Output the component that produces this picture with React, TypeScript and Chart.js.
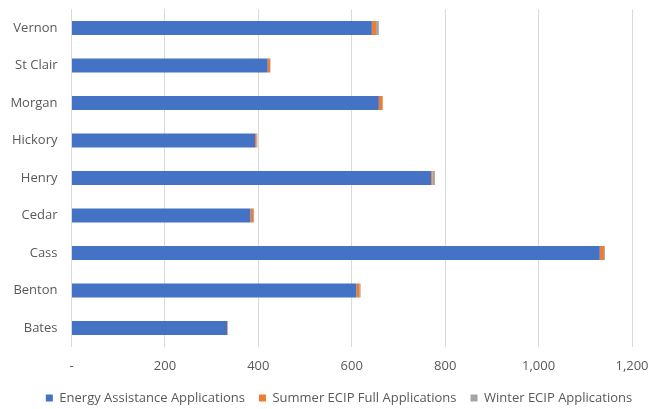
import { useEffect, useRef } from "react";
import { Chart, registerables } from "chart.js";

Chart.register(...registerables);

const counties = ["Vernon", "St Clair", "Morgan", "Hickory", "Henry", "Cedar", "Cass", "Benton", "Bates"];
const energyAssistance = [643, 420, 658, 393, 770, 383, 1131, 610, 333];
const summerEcip = [9, 5, 8, 3, 3, 6, 9, 7, 1];
const winterEcip = [6, 1, 1, 2, 5, 2, 2, 2, 1];
const seriesNames = ["Energy Assistance Applications", "Summer ECIP Full Applications", "Winter ECIP Applications"];
const xMin = 0;
const xMax = 1200;
const xStep = 200;

const FONT = "'Open Sans', sans-serif";
const TEXT = "#595959";

const legendShift = {
  id: "legendShift",
  afterLayout(chart: any) {
    if (chart.legend) {
      chart.legend.left += 15;
    }
  },
};

export default function App() {
  const ref = useRef<HTMLCanvasElement | null>(null);

  useEffect(() => {
    if (!ref.current) return;
    const chart = new Chart(ref.current, {
      type: "bar",
      data: {
        labels: counties,
        datasets: [
          { label: seriesNames[0], data: energyAssistance, backgroundColor: "#4472C4" },
          { label: seriesNames[1], data: summerEcip, backgroundColor: "#ED7D31" },
          { label: seriesNames[2], data: winterEcip, backgroundColor: "#A5A5A5" },
        ],
      },
      options: {
        indexAxis: "y",
        animation: false,
        responsive: false,
        maintainAspectRatio: false,
        datasets: { bar: { categoryPercentage: 1, barPercentage: 0.375 } },
        layout: { padding: { top: 9.25, right: 0, left: 0, bottom: 0 } },
        scales: {
          x: {
            stacked: true,
            min: xMin,
            max: xMax,
            ticks: {
              stepSize: xStep,
              color: TEXT,
              font: { family: FONT, size: 13 },
              padding: 12,
              maxRotation: 0,
              callback: (v: any) => (Number(v) === 0 ? "-" : Number(v).toLocaleString("en-US")),
            },
            grid: { color: "#d9d9d9", drawTicks: false, lineWidth: 1 },
            border: { display: false },
            afterFit: (s: any) => {
              s.height = 30.75;
              s.paddingLeft = 0;
              s.paddingRight = 31;
            },
          },
          y: {
            stacked: true,
            ticks: { color: TEXT, font: { family: FONT, size: 13 }, padding: 14 },
            grid: { display: false, drawTicks: false },
            border: { display: true, color: "#d9d9d9" },
            afterFit: (s: any) => {
              s.width = 71.5;
              s.paddingTop = 0;
              s.paddingBottom = 0;
            },
          },
        },
        plugins: {
          legend: {
            position: "bottom",
            maxHeight: 31.5,
            labels: {
              color: TEXT,
              font: { family: FONT, size: 13 },
              boxWidth: 7,
              boxHeight: 7,
              padding: 14,
            },
          },
          tooltip: { enabled: false },
        },
      },
      plugins: [legendShift],
    });
    return () => chart.destroy();
  }, []);

  return (
    <div style={{ position: "fixed", left: 0, top: 0, width: 663, height: 409, background: "#fff" }}>
      <canvas ref={ref} width={663} height={409} style={{ width: 663, height: 409 }} />
    </div>
  );
}
